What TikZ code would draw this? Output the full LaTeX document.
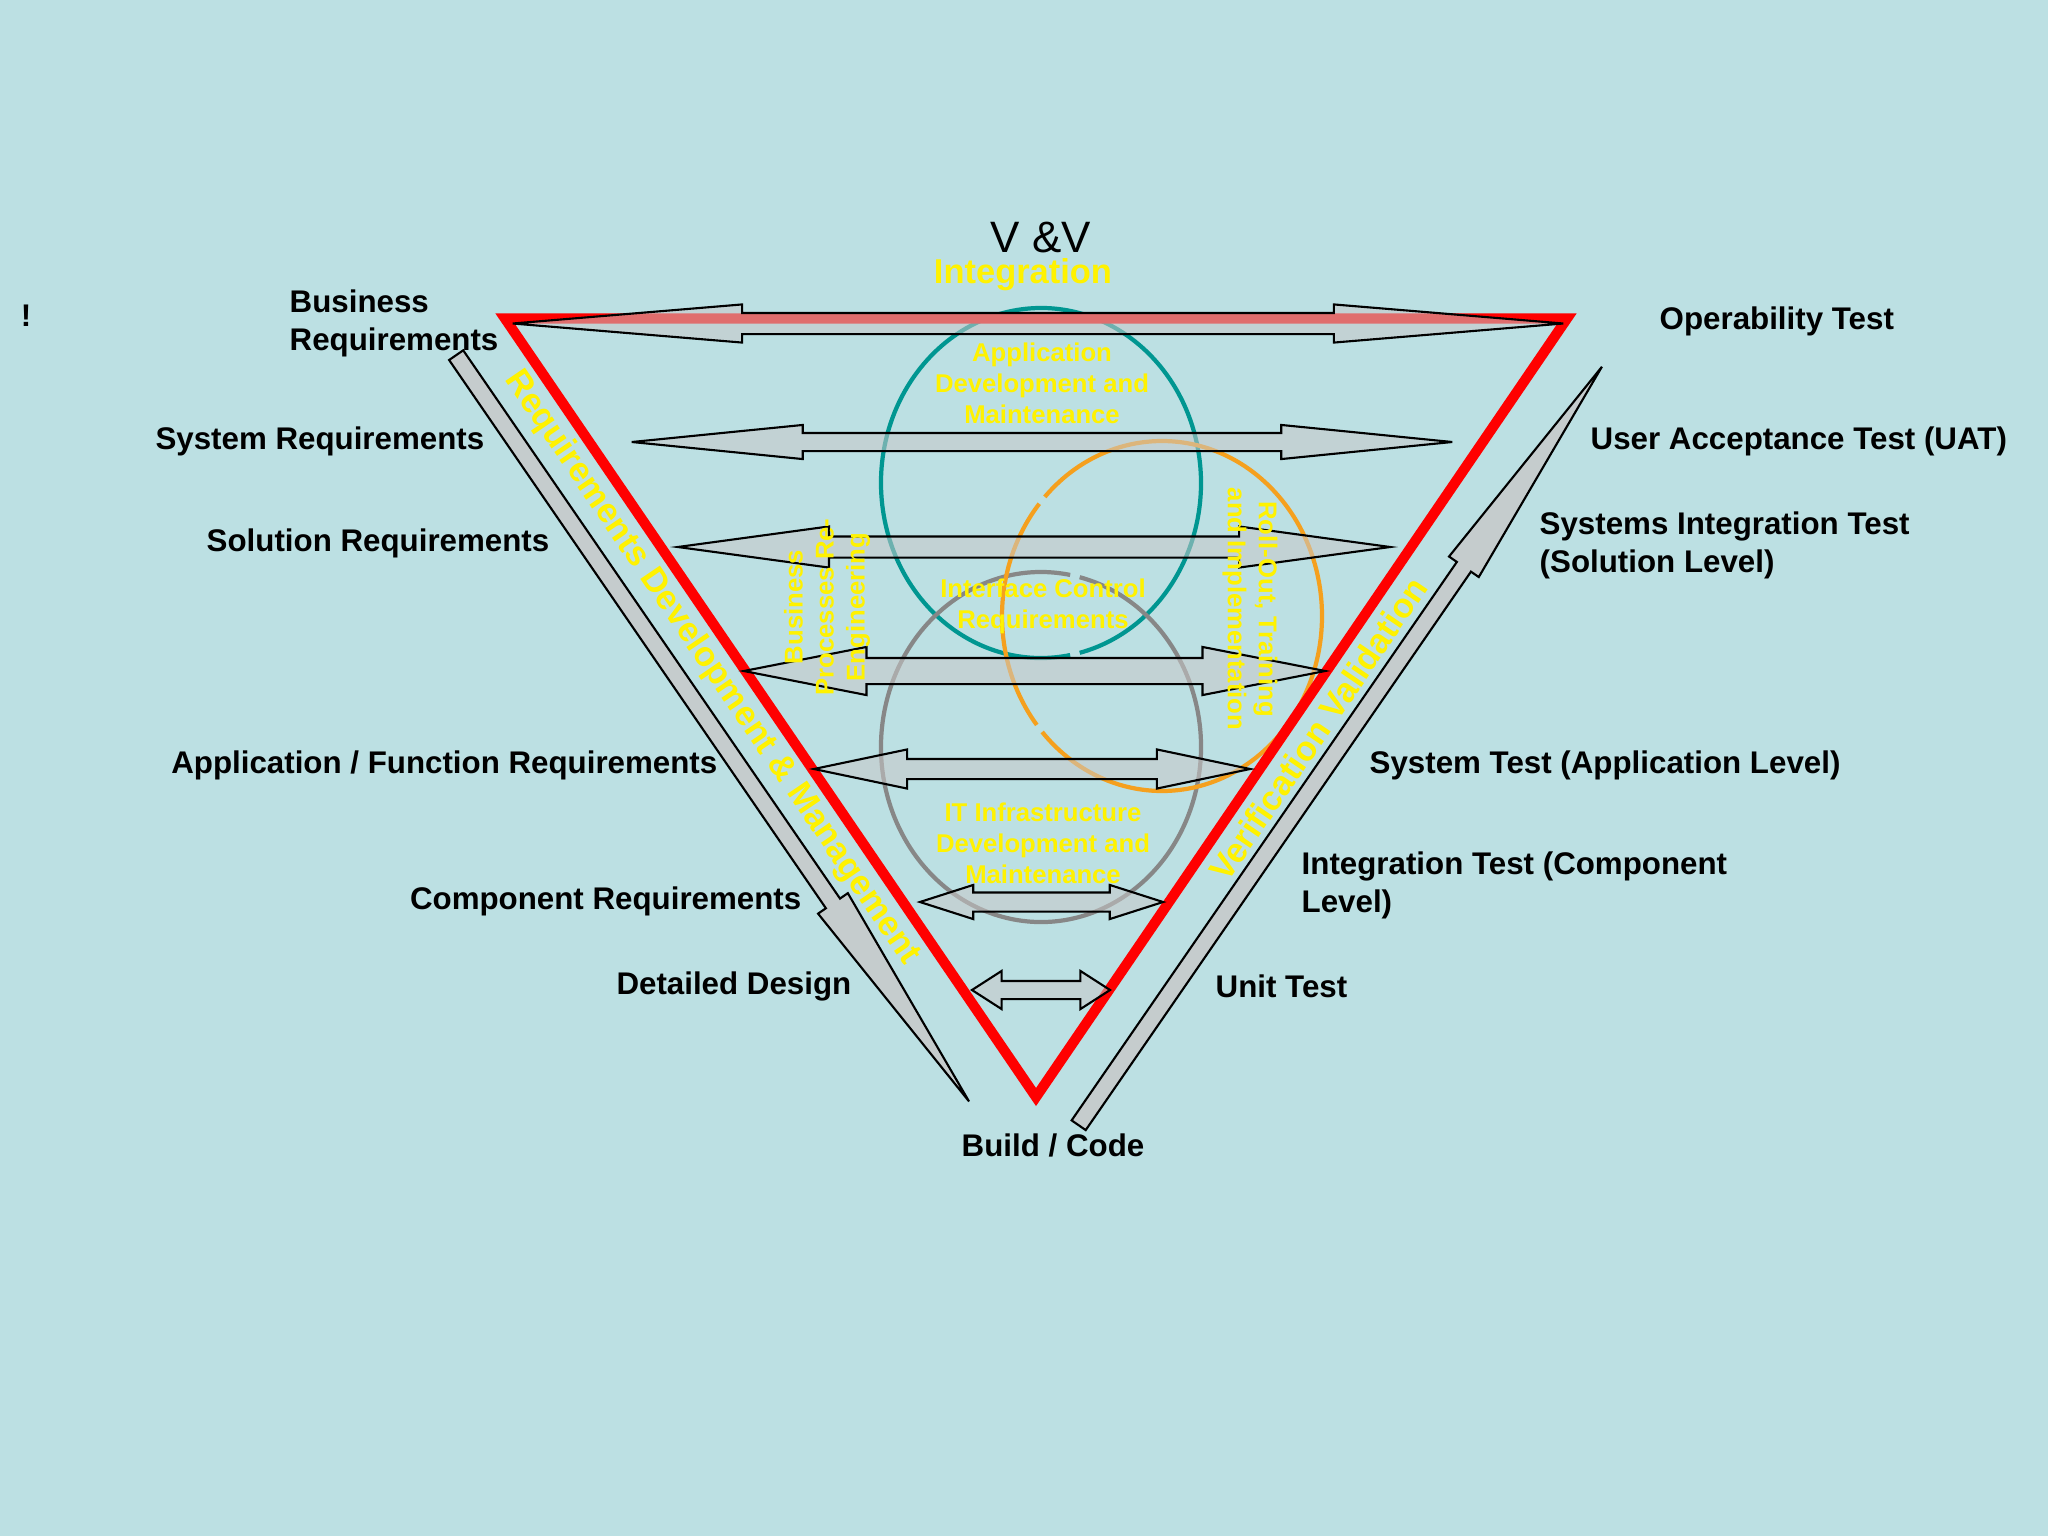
\documentclass[tikz,border=0pt]{standalone}
\usepackage{fontspec}
\setmainfont{Liberation Sans}
\usetikzlibrary{shapes.arrows,positioning}
\definecolor{slidebg}{RGB}{188,224,227}
\definecolor{ringteal}{RGB}{0,150,145}
\definecolor{ringorange}{RGB}{245,160,30}
\definecolor{ringgray}{RGB}{135,135,135}
\definecolor{shaftgray}{RGB}{200,200,200}

\begin{document}
\begin{tikzpicture}[x=0.01cm, y=-0.01cm,
    lbl/.style={font=\bfseries\fontsize{8.9}{10.8}\selectfont, inner sep=0pt, align=left},
    ring/.style={line width=1.2pt},
    tag/.style={text=yellow, font=\bfseries\fontsize{7.3}{8.8}\selectfont, inner sep=0pt, align=center},
    sidetag/.style={text=yellow, font=\bfseries\fontsize{9.8}{11}\selectfont, inner sep=0pt},
    twoway/.style={double arrow, draw=black, line width=0.6pt, fill=shaftgray, fill opacity=0.55, draw opacity=1, inner xsep=0pt, double arrow head indent=0pt},
    oneway/.style={single arrow, draw=black, line width=0.6pt, fill=shaftgray, fill opacity=0.8, draw opacity=1, inner xsep=0pt, inner ysep=0.075cm, single arrow head indent=0pt, minimum width=0.34cm, single arrow head extend=0.095cm}]

    \fill[slidebg] (0,0) rectangle (2048,1536);
    \useasboundingbox (0,0) rectangle (2048,1536);

    % the three rings
    \coordinate (appc) at (1041,483);
    \coordinate (rollc) at (1162,616);
    \coordinate (infrac) at (1041,747);
    \draw[ring, ringteal] (appc) ++(79.5:160 and 175) arc[start angle=79.5, end angle=436, x radius=160, y radius=175];
    \draw[ring, ringgray] (infrac) ++(284:160 and 175) arc[start angle=284, end angle=640.5, x radius=160, y radius=175];
    \draw[ring, ringorange] (rollc) ++(141.5:160 and 175) arc[start angle=141.5, end angle=219.9, x radius=160, y radius=175];
    \draw[ring, ringorange] (rollc) ++(222.9:160 and 175) arc[start angle=222.9, end angle=498.5, x radius=160, y radius=175];

    % the V
    \coordinate (vtl) at (505,318.5);
    \coordinate (vtr) at (1567,318.5);
    \coordinate (vbot) at (1036,1097);
    \draw[red, line width=2.9pt, line join=miter] (vtl) -- (vtr) -- (vbot) -- cycle;

    % level arrows
    \node[twoway, inner ysep=0.095cm, minimum height=10.50cm, minimum width=0.36cm, double arrow head extend=0.085cm, double arrow tip angle=9.5] (bizarrow) at (1038,323.5) {};
    \node[twoway, inner ysep=0.08cm, minimum height=8.20cm, minimum width=0.32cm, double arrow head extend=0.08cm, double arrow tip angle=11.4] (sysarrow) at (1042,442) {};
    \node[twoway, inner ysep=0.095cm, minimum height=7.12cm, minimum width=0.39cm, double arrow head extend=0.10cm, double arrow tip angle=15.5] (solarrow) at (1034,547) {};
    \node[twoway, inner ysep=0.12cm, minimum height=5.81cm, minimum width=0.46cm, double arrow head extend=0.11cm, double arrow tip angle=22.2] (bprarrow) at (1034.5,671) {};
    \node[twoway, inner ysep=0.09cm, minimum height=4.36cm, minimum width=0.37cm, double arrow head extend=0.095cm, double arrow tip angle=23.7] (apparrow) at (1032,769) {};
    \node[twoway, inner ysep=0.085cm, minimum height=2.43cm, minimum width=0.32cm, double arrow head extend=0.075cm, double arrow tip angle=35.5] (comparrow) at (1041.5,902) {};
    \node[twoway, inner ysep=0.08cm, minimum height=1.38cm, minimum width=0.36cm, double arrow head extend=0.10cm, double arrow tip angle=65.5] (designarrow) at (1041,990) {};

    % side arrows
    \node[oneway, minimum height=9.05cm, single arrow tip angle=8.6, rotate=-55.5, anchor=tip] (downarrow) at (977,1113) {};
    \node[oneway, minimum height=9.21cm, single arrow tip angle=8.5, rotate=55.4, anchor=tip] (uparrow) at (1610,355) {};

    % titles
    \node[font=\fontsize{12.5}{14}\selectfont, inner sep=0pt] (vv) at (1041,237) {V \&V};
    \node[sidetag] (integ) at (1023,275) {Integration};
    \node[sidetag, rotate=-55.7] (reqdev) at (712,668) {Requirements Development \& Management};
    \node[sidetag, rotate=55.7] (verval) at (1318,729) {Verification Validation};

    % ring texts
    \node[tag] (apptag) at (1042,383) {Application\\Development and\\Maintenance};
    \node[tag] (ictag) at (1043,606) {Interface Control\\Requirements};
    \node[tag] (infratag) at (1043,843) {IT Infrastructure\\Development  and\\Maintenance};
    \node[tag, rotate=90] (bprtag) at (827,607) {Business\\Processes Re-\\Engineering};
    \node[tag, rotate=-90] (rolltag) at (1250,609) {Roll-Out, Training\\and Implementation};

    % left labels
    \node[lbl] (bang) at (26,316) {!};
    \node[lbl, anchor=west] (bizreq) at (289,323) {Business\\Requirements};
    \node[lbl, anchor=east] (sysreq) at (485,441) {System Requirements};
    \node[lbl, anchor=east] (solreq) at (550,543) {Solution Requirements};
    \node[lbl, anchor=east] (appreq) at (718,765) {Application / Function Requirements};
    \node[lbl, anchor=east] (compreq) at (802,901) {Component Requirements};
    \node[lbl, anchor=east] (design) at (852,986) {Detailed Design};
    \node[lbl] (build) at (1053,1145) {Build / Code};

    % right labels
    \node[lbl, anchor=west] (optest) at (1659,321) {Operability Test};
    \node[lbl, anchor=west] (uat) at (1590,441) {User Acceptance Test (UAT)};
    \node[lbl, anchor=west] (sittest) at (1539,545) {Systems Integration Test\\(Solution Level)};
    \node[lbl, anchor=west] (systest) at (1369,765) {System Test (Application Level)};
    \node[lbl, anchor=west] (inttest) at (1301,885) {Integration Test (Component\\Level)};
    \node[lbl, anchor=west] (unittest) at (1215,986) {Unit Test};
\end{tikzpicture}
\end{document}
